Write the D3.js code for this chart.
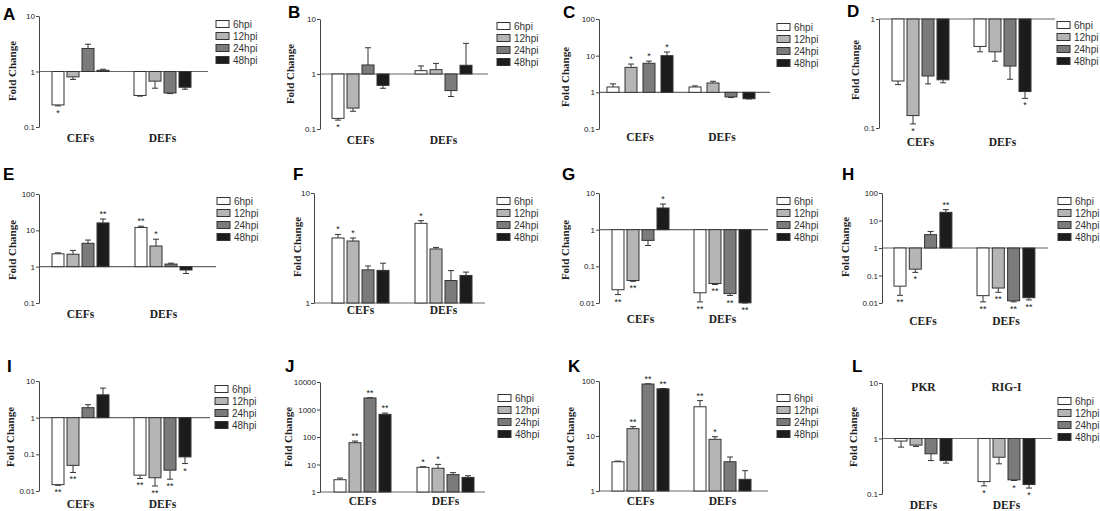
<!DOCTYPE html>
<html lang="en">
<head>
<meta charset="UTF-8" />
<title>Fold change panels</title>
<script src="https://d3js.org/d3.v7.min.js"></script>
<style>
  body { margin: 0; background: #fff; }
  svg { display: block; }
  .tick text { font-family: "Liberation Sans", Arial, sans-serif; font-size: 8px; fill: #222; }
  .tick line, .domain { stroke: #444; }
  .ytitle, .cat { font-family: "Liberation Serif", "Times New Roman", serif; font-weight: bold; fill: #222; }
  .ytitle { font-size: 11px; }
  .cat { font-size: 11.5px; }
  .letter { font-family: "Liberation Sans", Arial, sans-serif; font-weight: bold; font-size: 17px; fill: #000; }
  .leg { font-family: "Liberation Sans", Arial, sans-serif; font-size: 10px; fill: #333; }
  .sig { font-family: "Liberation Sans", Arial, sans-serif; font-size: 9px; fill: #222; }
</style>
</head>
<body>
<svg width="1100" height="511"></svg>
<script>
const series = ["6hpi", "12hpi", "24hpi", "48hpi"];
const colors = ["#ffffff", "#b5b5b5", "#7b7b7b", "#1c1c1c"];
const cells = ["CEFs", "DEFs"];
const genesL = ["PKR", "RIG-I"];
const cellsL = ["DEFs", "DEFs"];

// each panel: mean per group/series, end of error bar, significance marks
const ticksA = [0.1, 1, 10];
const meanA = [[0.25, 0.8, 2.6, 1.05], [0.37, 0.67, 0.41, 0.52]];
const errA  = [[0.24, 0.72, 3.1, 1.1], [0.36, 0.5, 0.4, 0.48]];
const sigA  = [["*", "", "", ""], ["", "", "", ""]];

const ticksB = [0.1, 1, 10];
const meanB = [[0.156, 0.24, 1.46, 0.62], [1.15, 1.2, 0.5, 1.44]];
const errB  = [[0.145, 0.21, 3.0, 0.55], [1.4, 1.56, 0.39, 3.6]];
const sigB  = [["*", "", "", ""], ["", "", "", ""]];

const ticksC = [0.1, 1, 10, 100];
const meanC = [[1.4, 4.8, 6.2, 10], [1.4, 1.8, 0.75, 0.67]];
const errC  = [[1.7, 5.9, 7.1, 12.6], [1.5, 2.0, 0.72, 0.66]];
const sigC  = [["", "*", "*", "*"], ["", "", "", ""]];

const ticksD = [0.1, 1];
const meanD = [[0.27, 0.13, 0.3, 0.277], [0.56, 0.5, 0.37, 0.216]];
const errD  = [[0.25, 0.109, 0.254, 0.26], [0.5, 0.41, 0.28, 0.187]];
const sigD  = [["", "*", "", ""], ["", "", "", "*"]];

const ticksE = [0.1, 1, 10, 100];
const meanE = [[2.26, 2.2, 4.4, 16], [12, 3.7, 1.18, 0.81]];
const errE  = [[2.4, 2.8, 5.4, 20.5], [13, 5.7, 1.25, 0.65]];
const sigE  = [["", "", "", "**"], ["**", "*", "", ""]];

const ticksF = [1, 10];
const meanF = [[3.9, 3.66, 2.0, 1.98], [5.3, 3.1, 1.6, 1.78]];
const errF  = [[4.2, 3.9, 2.17, 2.3], [5.6, 3.2, 1.97, 1.91]];
const sigF  = [["*", "*", "", ""], ["*", "", "", ""]];

const ticksG = [0.01, 0.1, 1, 10];
const meanG = [[0.023, 0.041, 0.51, 3.9], [0.019, 0.034, 0.018, 0.0101]];
const errG  = [[0.017, 0.039, 0.37, 5.0], [0.0107, 0.032, 0.016, 0.01]];
const sigG  = [["**", "**", "", "*"], ["**", "**", "**", "**"]];

const ticksH = [0.01, 0.1, 1, 10, 100];
const meanH = [[0.041, 0.17, 3.05, 19.8], [0.0185, 0.035, 0.012, 0.0156]];
const errH  = [[0.019, 0.13, 4.0, 24.8], [0.011, 0.0245, 0.011, 0.0129]];
const sigH  = [["**", "*", "", "**"], ["**", "**", "**", "**"]];

const ticksI = [0.01, 0.1, 1, 10];
const meanI = [[0.0149, 0.05, 1.87, 4.2], [0.027, 0.023, 0.037, 0.085]];
const errI  = [[0.0143, 0.032, 2.26, 6.4], [0.022, 0.0137, 0.021, 0.056]];
const sigI  = [["**", "**", "", ""], ["**", "**", "**", "*"]];

const ticksJ = [1, 10, 100, 1000, 10000];
const meanJ = [[2.8, 62, 2620, 667], [7.9, 7.3, 4.27, 3.4]];
const errJ  = [[3.2, 71, 2680, 740], [8.3, 10.1, 5.05, 3.9]];
const sigJ  = [["", "**", "**", "**"], ["*", "*", "", ""]];

const ticksK = [1, 10, 100];
const meanK = [[3.4, 13.6, 88, 72], [34, 8.7, 3.4, 1.63]];
const errK  = [[3.5, 14.8, 89, 73], [44, 9.7, 4.15, 2.34]];
const sigK  = [["", "**", "**", "**"], ["**", "*", "", ""]];

const ticksL = [0.1, 1, 10];
const meanL = [[0.9, 0.76, 0.53, 0.4], [0.167, 0.46, 0.18, 0.148]];
const errL  = [[0.7, 0.72, 0.4, 0.36], [0.14, 0.35, 0.175, 0.128]];
const sigL  = [["", "", "", ""], ["*", "", "*", "*"]];

const panels = [
  {id: "A", groups: cells, ticks: ticksA, mean: meanA, err: errA, sig: sigA,
   axisX: 39, yTop: 16, yBot: 127, g0: 52, gStep: 82, bStep: 15, lineEnd: 208,
   legX: 216, legY: 24, catY: 142, letter: [3, 20], title: [12, 71]},
  {id: "B", groups: cells, ticks: ticksB, mean: meanB, err: errB, sig: sigB,
   axisX: 320, yTop: 19, yBot: 129, g0: 332, gStep: 83, bStep: 15, lineEnd: 488,
   legX: 497, legY: 26, catY: 144, letter: [288, 18], title: [290, 74]},
  {id: "C", groups: cells, ticks: ticksC, mean: meanC, err: errC, sig: sigC,
   axisX: 599, yTop: 19, yBot: 129, g0: 607, gStep: 82, bStep: 18, lineEnd: 770,
   legX: 777, legY: 27, catY: 141, letter: [563, 18], title: [565, 77]},
  {id: "D", groups: cells, ticks: ticksD, mean: meanD, err: errD, sig: sigD,
   axisX: 879, yTop: 19, yBot: 128, g0: 892, gStep: 82, bStep: 15, lineEnd: 1055,
   legX: 1057, legY: 25, catY: 146, letter: [847, 17], title: [855, 70]},
  {id: "E", groups: cells, ticks: ticksE, mean: meanE, err: errE, sig: sigE,
   axisX: 39, yTop: 194, yBot: 303, g0: 52, gStep: 83, bStep: 15, lineEnd: 216,
   legX: 217, legY: 201, catY: 318, letter: [3, 180], title: [12, 250]},
  {id: "F", groups: cells, ticks: ticksF, mean: meanF, err: errF, sig: sigF,
   axisX: 314, yTop: 193, yBot: 303, g0: 332, gStep: 83, bStep: 15, lineEnd: 485,
   legX: 497, legY: 201, catY: 314, letter: [293, 180], title: [297, 247]},
  {id: "G", groups: cells, ticks: ticksG, mean: meanG, err: errG, sig: sigG,
   axisX: 599, yTop: 193, yBot: 303, g0: 612, gStep: 82, bStep: 15, lineEnd: 768,
   legX: 777, legY: 201, catY: 323, letter: [562, 180], title: [565, 250]},
  {id: "H", groups: cells, ticks: ticksH, mean: meanH, err: errH, sig: sigH,
   axisX: 882, yTop: 193, yBot: 303, g0: 894, gStep: 83, bStep: 15.3, lineEnd: 1048,
   legX: 1058, legY: 201, catY: 325, letter: [842, 180], title: [845, 247]},
  {id: "I", groups: cells, ticks: ticksI, mean: meanI, err: errI, sig: sigI,
   axisX: 39, yTop: 381, yBot: 491, g0: 52, gStep: 82, bStep: 15, lineEnd: 210,
   legX: 215, legY: 389, catY: 508, letter: [7, 372], title: [10, 437]},
  {id: "J", groups: cells, ticks: ticksJ, mean: meanJ, err: errJ, sig: sigJ,
   axisX: 320, yTop: 382, yBot: 492, g0: 334, gStep: 83, bStep: 15, lineEnd: 485,
   legX: 498, legY: 398, catY: 505, letter: [285, 372], title: [288, 437]},
  {id: "K", groups: cells, ticks: ticksK, mean: meanK, err: errK, sig: sigK,
   axisX: 599, yTop: 381, yBot: 491, g0: 612, gStep: 82, bStep: 15, lineEnd: 768,
   legX: 777, legY: 398, catY: 505, letter: [568, 372], title: [570, 437]},
  {id: "L", groups: genesL, below: cellsL, ticks: ticksL, mean: meanL, err: errL, sig: sigL,
   axisX: 882, yTop: 383, yBot: 494, g0: 895, gStep: 83, bStep: 15, lineEnd: 1052,
   legX: 1058, legY: 401, catY: 509, topY: 391, letter: [852, 372], title: [853, 437]}
];

const svg = d3.select("svg");
const barW = 12;

panels.forEach(p => {
  const g = svg.append("g");
  const y = d3.scaleLog()
    .domain([p.ticks[0], p.ticks[p.ticks.length - 1]])
    .range([p.yBot, p.yTop]);

  const groupW = 3 * p.bStep + barW;
  const x0 = d3.scaleBand().domain(p.groups)
    .range([p.g0, p.g0 + p.gStep + groupW])
    .paddingInner((p.gStep - groupW) / p.gStep);
  const x1 = d3.scaleBand().domain(series)
    .range([0, groupW])
    .paddingInner((p.bStep - barW) / p.bStep);

  // baseline at fold change = 1
  g.append("line")
    .attr("x1", p.axisX).attr("x2", p.lineEnd)
    .attr("y1", y(1)).attr("y2", y(1))
    .attr("stroke", "#666").attr("stroke-width", 1.2);

  g.append("g")
    .attr("transform", `translate(${p.axisX},0)`)
    .call(d3.axisLeft(y).tickValues(p.ticks).tickFormat(d => String(d)).tickSize(3).tickSizeOuter(0))
    .call(a => a.selectAll(".tick text").attr("x", -4));

  const rows = [];
  p.groups.forEach((grp, gi) => {
    series.forEach((s, si) => {
      rows.push({grp, s, si, v: p.mean[gi][si], e: p.err[gi][si], sig: p.sig[gi][si]});
    });
  });

  const bars = g.selectAll(".bar").data(rows).enter().append("g");

  bars.append("line")
    .attr("x1", d => x0(d.grp) + x1(d.s) + barW / 2)
    .attr("x2", d => x0(d.grp) + x1(d.s) + barW / 2)
    .attr("y1", d => y(d.v)).attr("y2", d => y(d.e))
    .attr("stroke", "#333");
  bars.append("line")
    .attr("x1", d => x0(d.grp) + x1(d.s) + barW / 2 - 3)
    .attr("x2", d => x0(d.grp) + x1(d.s) + barW / 2 + 3)
    .attr("y1", d => y(d.e)).attr("y2", d => y(d.e))
    .attr("stroke", "#333");

  bars.append("rect")
    .attr("x", d => x0(d.grp) + x1(d.s))
    .attr("width", x1.bandwidth())
    .attr("y", d => Math.min(y(d.v), y(1)))
    .attr("height", d => Math.abs(y(d.v) - y(1)))
    .attr("fill", d => colors[d.si])
    .attr("stroke", "#333").attr("stroke-width", 1);

  bars.filter(d => d.sig).append("text")
    .attr("class", "sig")
    .attr("text-anchor", "middle")
    .attr("x", d => x0(d.grp) + x1(d.s) + barW / 2)
    .attr("y", d => d.e >= 1 ? y(d.e) - 2 : y(d.e) + 10)
    .text(d => d.sig);

  // category labels
  g.selectAll(".cat").data(p.groups).enter().append("text")
    .attr("class", "cat")
    .attr("text-anchor", "middle")
    .attr("x", d => x0(d) + groupW / 2)
    .attr("y", p.catY)
    .text((d, i) => p.below ? p.below[i] : d);

  if (p.topY) {
    g.selectAll(".gene").data(p.groups).enter().append("text")
      .attr("class", "cat")
      .attr("text-anchor", "middle")
      .attr("x", d => x0(d) + groupW / 2)
      .attr("y", p.topY)
      .text(d => d);
  }

  g.append("text")
    .attr("class", "ytitle")
    .attr("text-anchor", "middle")
    .attr("transform", `translate(${p.title[0] + 4},${p.title[1]}) rotate(-90)`)
    .text("Fold Change");

  g.append("text")
    .attr("class", "letter")
    .attr("x", p.letter[0]).attr("y", p.letter[1])
    .text(p.id);

  const leg = g.selectAll(".leg-item").data(series).enter().append("g")
    .attr("transform", (d, i) => `translate(${p.legX},${p.legY + i * 12})`);
  leg.append("rect")
    .attr("x", 0).attr("y", -3.5).attr("width", 13).attr("height", 7)
    .attr("fill", (d, i) => colors[i]).attr("stroke", "#333");
  leg.append("text")
    .attr("class", "leg")
    .attr("x", 17).attr("y", 3.5)
    .text(d => d);
});
</script>
</body>
</html>
